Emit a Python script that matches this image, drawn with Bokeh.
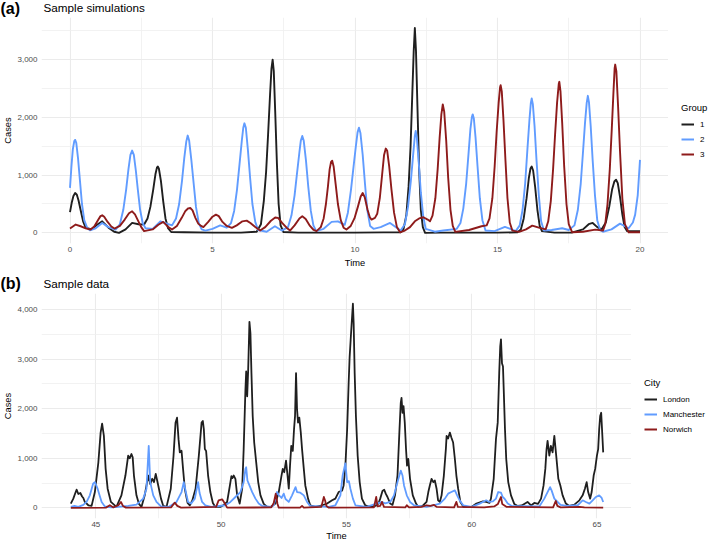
from bokeh.plotting import figure
from bokeh.models import FixedTicker, NumeralTickFormatter, Legend, LegendItem, Range1d
from bokeh.layouts import column, row
from bokeh.core.properties import value
from bokeh.embed import file_html
from bokeh.resources import INLINE

FONT = "Liberation Sans"
BLACK = "#1F1F1F"
BLUE = "#619CFF"
RED = "#8E1B1B"

# ---------------- Panel (a): sample simulations ----------------
group_labels = ["1", "2", "3"]

sim_t_1 = [0.0, 0.06, 0.12, 0.18, 0.24, 0.3, 0.38, 0.46, 0.55, 0.75, 0.95, 1.13, 1.35, 1.55, 1.72,
           1.95, 2.18, 2.4, 2.6, 2.72, 2.82, 2.92, 3.0, 3.05, 3.08, 3.12, 3.19, 3.27, 3.35, 3.44,
           3.55, 4.0, 5.0, 6.0, 6.55, 6.7, 6.8, 6.88, 6.95, 7.02, 7.07, 7.11, 7.15, 7.2, 7.26,
           7.32, 7.39, 7.49, 8.0, 9.0, 10.0, 11.0, 11.6, 11.7, 11.8, 11.88, 11.95, 12.01, 12.06,
           12.1, 12.14, 12.19, 12.25, 12.31, 12.38, 12.46, 13.0, 14.0, 15.0, 15.7, 15.82, 15.92,
           16.02, 16.1, 16.16, 16.2, 16.25, 16.32, 16.4, 16.48, 16.56, 17.0, 17.6, 18.0, 18.2,
           18.34, 18.5, 18.65, 18.8, 18.92, 19.02, 19.1, 19.16, 19.22, 19.3, 19.38, 19.46, 19.55, 20.0]
sim_v_1 = [360, 520, 640, 690, 660, 560, 380, 200, 90, 60, 140, 200, 90, 20, 0,
           60, 172, 150, 144, 250, 450, 750, 1020, 1130, 1150, 1110, 900, 550, 250, 80,
           15, 10, 5, 5, 20, 150, 550, 1050, 1700, 2400, 2850, 3000, 2800, 2100, 1200,
           500, 130, 15, 5, 5, 5, 8, 10, 60, 300, 800, 1500, 2400, 3150,
           3546, 3150, 2200, 1100, 400, 100, 0, 5, 5, 5, 10, 60, 250,
           600, 950, 1120, 1150, 1080, 800, 400, 120, 30, 5, 5, 60, 150,
           172, 100, 60, 180, 450, 750, 890, 920, 860, 620, 320, 100, 30, 29]

sim_t_2 = [0.0, 0.05, 0.1, 0.15, 0.18, 0.22, 0.28, 0.35, 0.42, 0.5, 0.6, 0.7, 0.9, 1.13, 1.35, 1.6,
           1.75, 1.87, 1.97, 2.05, 2.12, 2.18, 2.24, 2.31, 2.38, 2.46, 2.55, 2.65, 2.9, 3.17, 3.35,
           3.58, 3.72, 3.83, 3.93, 4.01, 4.08, 4.13, 4.18, 4.26, 4.34, 4.42, 4.52, 4.62, 4.75, 5.0,
           5.27, 5.5, 5.65, 5.76, 5.86, 5.95, 6.03, 6.08, 6.12, 6.17, 6.24, 6.32, 6.4, 6.5, 6.6,
           6.9, 7.19, 7.43, 7.65, 7.77, 7.88, 7.97, 8.05, 8.1, 8.15, 8.2, 8.28, 8.36, 8.45, 8.54,
           8.64, 8.9, 9.18, 9.4, 9.64, 9.75, 9.86, 9.95, 10.03, 10.09, 10.14, 10.19, 10.27, 10.35,
           10.43, 10.53, 10.65, 10.9, 11.23, 11.4, 11.6, 11.75, 11.86, 11.96, 12.04, 12.1, 12.13,
           12.17, 12.24, 12.31, 12.39, 12.48, 12.8, 13.1, 13.57, 13.7, 13.8, 13.9, 13.98, 14.05,
           14.1, 14.13, 14.17, 14.23, 14.3, 14.38, 14.47, 14.58, 14.9, 15.26, 15.45, 15.64, 15.78,
           15.88, 15.97, 16.05, 16.12, 16.17, 16.2, 16.24, 16.3, 16.37, 16.45, 16.53, 16.63, 16.9,
           17.27, 17.5, 17.7, 17.82, 17.92, 18.0, 18.07, 18.13, 18.17, 18.21, 18.27, 18.34, 18.42,
           18.5, 18.6, 18.7, 19.0, 19.3, 19.6, 19.75, 19.83, 19.92, 20.0]
sim_v_2 = [780, 1150, 1450, 1590, 1610, 1560, 1300, 900, 500, 220, 90, 45, 80, 170, 100, 55,
           150, 400, 750, 1100, 1350, 1425, 1350, 1080, 750, 400, 170, 80, 70, 200, 170,
           130, 250, 500, 900, 1300, 1580, 1685, 1600, 1250, 850, 450, 170, 60, 40, 70,
           130, 90, 170, 380, 750, 1200, 1600, 1820, 1897, 1820, 1450, 950, 500, 190, 50,
           20, 115, 40, 100, 300, 650, 1050, 1400, 1600, 1678, 1600, 1250, 800, 380, 130,
           30, 70, 190, 200, 140, 350, 750, 1150, 1500, 1740, 1822, 1730, 1350, 850,
           400, 120, 70, 100, 172, 110, 40, 150, 450, 900, 1350, 1680, 1764,
           1650, 1200, 700, 300, 70, 20, 40, 70, 170, 420, 850, 1350, 1800,
           2000, 2052, 1980, 1650, 1150, 600, 220, 40, 30, 103, 70, 30, 130,
           400, 850, 1450, 1950, 2250, 2327, 2230, 1850, 1250, 650, 200, 40, 50,
           80, 50, 130, 400, 850, 1400, 1900, 2250, 2373, 2260, 1850, 1250, 650,
           220, 50, 20, 60, 160, 80, 180, 316, 650, 1264]

sim_t_3 = [0.0, 0.2, 0.4, 0.55, 0.72, 0.85, 0.98, 1.07, 1.13, 1.2, 1.32, 1.45, 1.56, 1.75, 1.92,
           2.07, 2.18, 2.28, 2.4, 2.5, 2.6, 2.9, 3.1, 3.27, 3.45, 3.58, 3.75, 3.92, 4.05, 4.15,
           4.22, 4.3, 4.4, 4.5, 4.6, 4.68, 4.85, 5.0, 5.12, 5.22, 5.35, 5.5, 5.68, 5.85, 6.05,
           6.2, 6.33, 6.5, 6.67, 6.85, 7.05, 7.2, 7.3, 7.45, 7.6, 7.72, 7.88, 8.05, 8.15, 8.27,
           8.42, 8.55, 8.65, 8.8, 8.9, 8.98, 9.05, 9.11, 9.16, 9.2, 9.25, 9.32, 9.4, 9.5, 9.6,
           9.7, 9.85, 9.98, 10.1, 10.2, 10.27, 10.34, 10.44, 10.52, 10.58, 10.7, 10.78, 10.87,
           10.95, 11.02, 11.08, 11.13, 11.2, 11.28, 11.37, 11.47, 11.58, 11.75, 11.93, 12.1, 12.25,
           12.4, 12.55, 12.63, 12.72, 12.82, 12.9, 12.97, 13.03, 13.08, 13.13, 13.2, 13.27, 13.35,
           13.43, 13.52, 14.0, 14.44, 14.62, 14.72, 14.82, 14.9, 14.97, 15.04, 15.09, 15.11, 15.15,
           15.21, 15.28, 15.35, 15.43, 15.52, 15.76, 16.0, 16.22, 16.45, 16.69, 16.78, 16.87, 16.95,
           17.02, 17.09, 17.15, 17.17, 17.21, 17.27, 17.34, 17.42, 17.5, 17.62, 18.0, 18.43, 18.7,
           18.78, 18.86, 18.94, 19.01, 19.07, 19.11, 19.13, 19.17, 19.23, 19.3, 19.38, 19.47, 19.6,
           20.0]
sim_v_3 = [75, 144, 110, 80, 57, 110, 220, 290, 305, 280, 190, 110, 75, 120, 230,
           340, 374, 320, 200, 100, 30, 60, 140, 190, 100, 57, 120, 260, 380, 425,
           431, 390, 260, 160, 120, 100, 190, 280, 316, 290, 190, 120, 86, 130, 200,
           212, 170, 100, 40, 100, 210, 265, 260, 170, 90, 40, 130, 250, 287, 240,
           120, 50, 30, 100, 250, 500, 800, 1100, 1230, 1250, 1150, 850, 500, 220, 90,
           57, 120, 250, 450, 630, 690, 620, 400, 270, 230, 260, 330, 600,
           1000, 1350, 1460, 1420, 1150, 750, 350, 100, 10, 40, 100, 200, 250,
           270, 230, 200, 300, 600, 1100, 1650, 2050, 2224, 2100, 1600, 950, 400,
           120, 17, 50, 115, 130, 250, 600, 1150, 1750, 2250, 2520, 2557, 2450,
           1950, 1250, 600, 180, 40, 17, 60, 126, 90, 60, 200, 550, 1100,
           1700, 2250, 2580, 2615, 2450, 1900, 1150, 500, 150, 10, 20, 57, 40,
           150, 500, 1100, 1800, 2450, 2850, 2914, 2800, 2200, 1400, 600, 150, 10,
           10]

sim_x_ticks = [0, 5, 10, 15, 20]
sim_x_minor = [2.5, 7.5, 12.5, 17.5]
sim_y_ticks = [0, 1000, 2000, 3000]
sim_y_minor = [500, 1500, 2500, 3500]

# ---------------- Panel (b): sample data ----------------
city_labels = ["London", "Manchester", "Norwich"]

lon_t = [44.0, 44.1, 44.18, 44.23, 44.3, 44.38, 44.45, 44.5, 44.56, 44.7, 44.83, 44.96, 45.1, 45.19,
         45.25, 45.32, 45.39, 45.47, 45.6, 45.82, 46.02, 46.18, 46.29, 46.35, 46.42, 46.47, 46.52,
         46.62, 46.72, 46.82, 46.95, 47.09, 47.17, 47.25, 47.32, 47.39, 47.49, 47.6, 47.69, 47.82,
         47.99, 48.1, 48.18, 48.24, 48.3, 48.35, 48.42, 48.48, 48.55, 48.66, 48.75, 48.85, 48.98,
         49.11, 49.22, 49.27, 49.31, 49.35, 49.4, 49.48, 49.57, 49.67, 49.77, 49.97, 50.1, 50.24,
         50.35, 50.41, 50.45, 50.5, 50.57, 50.64, 50.74, 50.84, 50.9, 50.97, 51.0, 51.04, 51.08,
         51.13, 51.17, 51.21, 51.26, 51.32, 51.4, 51.48, 51.57, 51.7, 51.84, 51.97, 52.17, 52.3,
         52.41, 52.46, 52.52, 52.59, 52.65, 52.7, 52.75, 52.8, 52.86, 52.91, 52.95, 52.99, 53.03,
         53.07, 53.12, 53.18, 53.23, 53.3, 53.36, 53.47, 53.56, 53.76, 54.03, 54.23, 54.43, 54.56,
         54.69, 54.83, 54.89, 54.96, 55.03, 55.09, 55.13, 55.17, 55.21, 55.26, 55.29, 55.33, 55.38,
         55.45, 55.53, 55.62, 55.75, 55.95, 56.15, 56.28, 56.35, 56.44, 56.51, 56.57, 56.64, 56.75,
         56.84, 56.94, 57.04, 57.12, 57.17, 57.2, 57.24, 57.28, 57.33, 57.38, 57.42, 57.47, 57.54,
         57.65, 57.78, 57.87, 58.04, 58.2, 58.27, 58.33, 58.4, 58.47, 58.53, 58.6, 58.66, 58.73,
         58.8, 58.89, 58.97, 59.0, 59.06, 59.13, 59.19, 59.26, 59.33, 59.39, 59.46, 59.55, 59.68,
         59.99, 60.19, 60.45, 60.58, 60.71, 60.77, 60.88, 60.97, 61.04, 61.1, 61.14, 61.17, 61.21,
         61.25, 61.28, 61.33, 61.38, 61.46, 61.57, 61.7, 61.84, 62.0, 62.23, 62.37, 62.5, 62.65,
         62.77, 62.87, 62.94, 62.99, 63.03, 63.1, 63.16, 63.23, 63.3, 63.35, 63.4, 63.46, 63.54,
         63.63, 63.76, 63.9, 64.1, 64.3, 64.43, 64.52, 64.59, 64.65, 64.73, 64.79, 64.87, 64.93,
         65.0, 65.05, 65.09, 65.13, 65.17, 65.21, 65.25]
lon_v = [87, 187, 300, 367, 280, 300, 230, 200, 120, 53, 40, 320, 920, 1520,
         1700, 1453, 787, 387, 120, 20, 253, 653, 1053, 1000, 1087, 1020, 653,
         253, 80, 20, 253, 653, 480, 587, 520, 687, 453, 187, 40, 20,
         387, 1053, 1720, 1820, 1387, 1120, 1153, 787, 387, 100, 50, 150, 387,
         1053, 1720, 1753, 1587, 1187, 1150, 653, 320, 100, 20, 20, 60, 120,
         453, 640, 600, 653, 587, 253, 87, 387, 1187, 2387, 2753, 2253, 2787,
         3753, 3520, 2720, 1853, 1320, 920, 520, 253, 80, 20, 20, 87, 320,
         653, 787, 720, 953, 653, 387, 853, 1253, 1150, 1587, 1853, 2720, 1987,
         1720, 1820, 1520, 1187, 787, 453, 187, 50, 20, 53, 87, 153, 187,
         320, 350, 453, 853, 1587, 2520, 3053, 3387, 3720, 4120, 3720, 2720, 1853,
         1053, 520, 187, 53, 20, 40, 87, 187, 340, 367, 287, 220, 87,
         60, 253, 653, 1587, 2120, 2220, 1920, 2053, 1720, 1187, 853, 987, 587,
         253, 87, 20, 40, 120, 320, 453, 587, 520, 553, 387, 153, 120,
         253, 653, 1187, 1453, 1400, 1520, 1420, 1320, 987, 653, 387, 120, 20,
         20, 87, 133, 120, 100, 187, 587, 1387, 1720, 2720, 3253, 3400, 2920,
         2853, 2387, 1587, 987, 520, 253, 80, 40, 50, 120, 50, 100, 80,
         187, 453, 787, 1187, 1353, 1053, 1253, 1120, 1453, 1187, 920, 587, 453,
         253, 87, 40, 67, 153, 253, 387, 520, 320, 187, 320, 653, 787,
         1053, 1187, 1587, 1853, 1920, 1520, 1120]

man_t = [44.0, 44.15, 44.3, 44.5, 44.63, 44.76, 44.89, 44.96, 45.07, 45.15, 45.23, 45.36, 45.6, 45.9,
         46.29, 46.62, 46.89, 47.02, 47.11, 47.17, 47.29, 47.42, 47.6, 47.9, 48.22, 48.42, 48.51,
         48.6, 48.68, 48.8, 48.95, 49.08, 49.14, 49.24, 49.37, 49.6, 50.17, 50.37, 50.57, 50.77,
         50.9, 50.97, 51.0, 51.05, 51.13, 51.24, 51.37, 51.5, 51.64, 52.0, 52.1, 52.23, 52.3, 52.41,
         52.5, 52.57, 52.7, 52.83, 52.97, 53.03, 53.16, 53.3, 53.43, 53.55, 54.3, 54.56, 54.76,
         54.85, 54.96, 55.03, 55.1, 55.16, 55.26, 55.36, 55.8, 56.42, 56.55, 56.75, 56.9, 57.04,
         57.17, 57.24, 57.3, 57.41, 57.54, 57.7, 58.2, 58.47, 58.73, 58.93, 59.06, 59.19, 59.33,
         59.42, 59.52, 59.66, 60.0, 60.32, 60.58, 60.7, 60.85, 60.97, 61.06, 61.17, 61.24, 61.32,
         61.44, 61.6, 62.7, 62.9, 63.03, 63.13, 63.19, 63.3, 63.43, 63.55, 63.8, 64.23, 64.43,
         64.56, 64.7, 64.83, 64.96, 65.09, 65.19, 65.25]
man_v = [20, 40, 20, 60, 120, 253, 487, 520, 387, 250, 120, 30, 10, 20,
         40, 67, 187, 387, 1253, 520, 253, 120, 30, 20, 120, 320, 520,
         300, 120, 87, 187, 520, 300, 120, 53, 20, 53, 120, 220, 320,
         520, 787, 820, 553, 453, 320, 187, 87, 40, 20, 53, 320, 260, 200,
         287, 180, 120, 253, 420, 320, 307, 253, 120, 40, 20, 53, 253,
         653, 900, 520, 540, 387, 187, 53, 20, 120, 90, 120, 253, 520,
         753, 653, 453, 253, 120, 53, 20, 53, 87, 187, 287, 320, 353,
         253, 153, 53, 20, 87, 153, 120, 130, 187, 320, 307, 220, 180,
         87, 40, 30, 187, 320, 420, 353, 187, 120, 60, 40, 53, 153,
         120, 87, 153, 220, 253, 200, 120]

nor_t = [44.0, 45.4, 45.56, 45.7, 45.9, 46.0, 46.08, 46.2, 48.0, 48.15, 48.25, 48.4, 49.8, 49.9,
         50.04, 50.15, 50.24, 52.0, 52.1, 52.18, 52.25, 52.3, 53.15, 53.23, 53.3, 54.0, 54.1, 54.15,
         54.2, 54.3, 56.1, 56.19, 56.24, 56.35, 56.42, 56.5, 57.35, 57.41, 57.5, 58.0, 58.2, 58.35,
         58.5, 58.6, 59.3, 59.39, 59.45, 60.5, 60.9, 61.05, 61.1, 61.17, 61.22, 61.4, 63.25, 63.36,
         63.42, 63.55, 64.3, 64.5, 65.25]
nor_v = [0, 5, 53, 10, 53, 120, 40, 5, 10, 107, 40, 5, 20, 153,
         173, 87, 5, 10, 100, 287, 80, 5, 5, 40, 5, 20, 220, 150,
         40, 5, 10, 220, 30, 40, 120, 20, 10, 53, 10, 20, 53, 40,
         60, 20, 10, 120, 20, 10, 30, 80, 140, 220, 80, 20, 10, 140,
         40, 10, 20, 10, 5]

dat_x_ticks = [45, 50, 55, 60, 65]
dat_x_minor = [47.5, 52.5, 57.5, 62.5]
dat_y_ticks = [0, 1000, 2000, 3000, 4000]
dat_y_minor = [500, 1500, 2500, 3500]


def make_panel(width, height, bottom, xr, yr, xt, xm, yt, ym, label_standoff):
    p = figure(width=width, height=height, output_backend="svg", toolbar_location=None,
               x_range=Range1d(*xr), y_range=Range1d(*yr),
               min_border_left=41, min_border_right=0, min_border_top=0, min_border_bottom=bottom)
    p.outline_line_color = None
    p.background_fill_color = "white"
    p.border_fill_color = "white"
    xtick = FixedTicker(ticks=xt, minor_ticks=xm)
    ytick = FixedTicker(ticks=yt, minor_ticks=ym)
    p.xaxis.ticker = xtick
    p.yaxis.ticker = ytick
    p.xgrid.ticker = xtick
    p.ygrid.ticker = ytick
    p.yaxis.formatter = NumeralTickFormatter(format="0,0")
    for g in (p.xgrid, p.ygrid):
        g.grid_line_color = "#EBEBEB"
        g.grid_line_width = 1.1
        g.minor_grid_line_color = "#EFEFEF"
        g.minor_grid_line_width = 0.8
    for ax in (p.xaxis[0], p.yaxis[0]):
        ax.axis_line_color = None
        ax.major_tick_line_color = None
        ax.minor_tick_line_color = None
        ax.major_tick_out = 0
        ax.major_tick_in = 0
        ax.minor_tick_out = 0
        ax.major_label_text_font = FONT
        ax.major_label_text_font_size = "8px"
        ax.major_label_text_color = "#4D4D4D"
        ax.axis_label_text_font = FONT
        ax.axis_label_text_font_size = "9.3px"
        ax.axis_label_text_font_style = "normal"
        ax.axis_label_text_color = "black"
    p.xaxis.major_label_standoff = 3
    p.yaxis.major_label_standoff = 4
    p.xaxis.axis_label = "Time"
    p.xaxis.axis_label_standoff = label_standoff
    p.yaxis.axis_label = "Cases"
    p.yaxis.axis_label_standoff = 1
    return p


def make_header(width, height, tag, title, ty):
    h = figure(width=width, height=height, output_backend="svg", toolbar_location=None,
               x_range=Range1d(0, width), y_range=Range1d(0, height),
               x_axis_type=None, y_axis_type=None,
               min_border_left=0, min_border_right=0, min_border_top=0, min_border_bottom=0)
    h.outline_line_color = None
    h.xgrid.visible = False
    h.ygrid.visible = False
    h.text(x=[0], y=[ty], text=[tag], text_font=value(FONT), text_font_size=value("16px"),
           text_font_style=value("bold"), text_baseline=value("middle"), text_align=value("left"),
           text_color="black")
    h.text(x=[43], y=[ty + 0.5], text=[title], text_font=value(FONT), text_font_size=value("11.7px"),
           text_baseline=value("middle"), text_align=value("left"), text_color="black")
    return h


def make_legend_fig(width, height, title, labels, colors, xs, ys, loc):
    # the series are drawn again here only so that the legend has swatches;
    # the ranges keep them out of view
    lf = figure(width=width, height=height, output_backend="svg", toolbar_location=None,
                x_range=Range1d(-10, -9), y_range=Range1d(-10, -9),
                x_axis_type=None, y_axis_type=None,
                min_border_left=0, min_border_right=0, min_border_top=0, min_border_bottom=0)
    lf.outline_line_color = None
    lf.xgrid.visible = False
    lf.ygrid.visible = False
    rs = [lf.line(x, y, line_color=c, line_width=2) for x, y, c in zip(xs, ys, colors)]
    items = [LegendItem(label=l, renderers=[r]) for l, r in zip(labels, rs)]
    leg = Legend(items=items, title=title, location=loc)
    leg.title_text_font = FONT
    leg.title_text_font_size = "9.5px"
    leg.title_text_font_style = "normal"
    leg.title_text_color = "black"
    leg.title_standoff = 5
    leg.label_text_font = FONT
    leg.label_text_font_size = "8px"
    leg.label_text_color = "black"
    leg.glyph_width = 13
    leg.glyph_height = 12
    leg.label_height = 12
    leg.label_standoff = 6
    leg.spacing = 3
    leg.padding = 0
    leg.margin = 0
    leg.border_line_color = None
    leg.background_fill_alpha = 0
    lf.add_layout(leg, "center")
    return lf


# Panel (a)
p1 = make_panel(668, 253, 26, (-1.0, 21.0), (-184, 3729),
                sim_x_ticks, sim_x_minor, sim_y_ticks, sim_y_minor, 3)
p1.line(sim_t_1, sim_v_1, line_color=BLACK, line_width=1.9, line_join="round")
p1.line(sim_t_2, sim_v_2, line_color=BLUE, line_width=1.9, line_join="round")
p1.line(sim_t_3, sim_v_3, line_color=RED, line_width=1.9, line_join="round")
leg1 = make_legend_fig(41, 253, "Group", group_labels, [BLACK, BLUE, RED],
                       [sim_t_1, sim_t_2, sim_t_3], [sim_v_1, sim_v_2, sim_v_3], (13, 83))
head1 = make_header(709, 17, "(a)", "Sample simulations", 9.5)

# Panel (b)
p2 = make_panel(631, 250, 23, (42.83, 66.38), (-214, 4326),
                dat_x_ticks, dat_x_minor, dat_y_ticks, dat_y_minor, 1)
p2.line(lon_t, lon_v, line_color=BLACK, line_width=1.8, line_join="round")
p2.line(man_t, man_v, line_color=BLUE, line_width=1.8, line_join="round")
p2.line(nor_t, nor_v, line_color=RED, line_width=1.8, line_join="round")
leg2 = make_legend_fig(78, 250, "City", city_labels, [BLACK, BLUE, RED],
                       [lon_t, man_t, nor_t], [lon_v, man_v, nor_v], (13, 83))
head2 = make_header(709, 23, "(b)", "Sample data", 10)

layout = column(head1, row(p1, leg1, spacing=0), head2, row(p2, leg2, spacing=0), spacing=0)
open("out.html", "w").write(file_html(layout, INLINE))
